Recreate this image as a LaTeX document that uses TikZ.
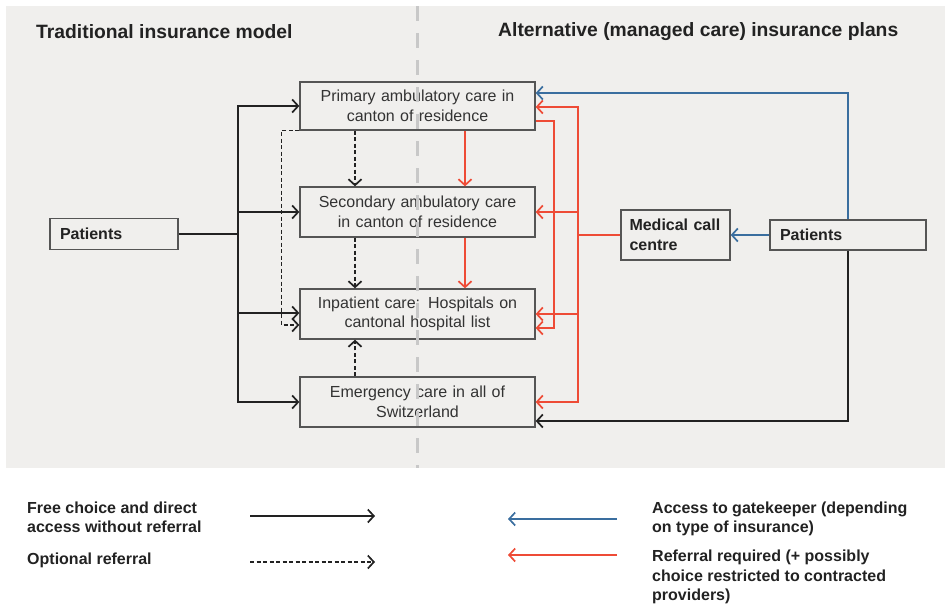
\documentclass[tikz,border=0pt]{standalone}
\usepackage{fontspec}
\setmainfont{Liberation Sans}
\usetikzlibrary{arrows.meta}
\definecolor{bg}{HTML}{F0EFED}
\definecolor{redc}{HTML}{EE4B36}
\definecolor{bluec}{HTML}{3A6E9F}
\definecolor{boxc}{HTML}{555555}
\definecolor{txt}{HTML}{333333}
\definecolor{lbl}{HTML}{222222}
\definecolor{divc}{HTML}{C8C8C8}
\begin{document}
\begin{tikzpicture}[x=1pt,y=-1pt,
  tip/.tip={Straight Barb[length=6pt,width=13pt,line width=1.7pt]},
  box/.style={draw=boxc, line width=1.3pt, minimum width=235pt, text width=225pt, inner xsep=5pt, inner ysep=0pt,
    align=center, text=txt, font=\fontsize{16}{19.5}\selectfont},
  lbox/.style={draw=boxc, line width=1.3pt, inner ysep=0pt, align=left, text=lbl,
    font=\fontsize{16}{19.5}\selectfont\bfseries},
  ln/.style={draw=lbl, line width=1.4pt},
  rl/.style={draw=redc, line width=1.4pt},
  bl/.style={draw=bluec, line width=1.4pt},
  dsh/.style={draw=lbl, line width=1.2pt, dash pattern=on 4pt off 2.5pt},
  hdr/.style={anchor=west, inner sep=0pt, text=lbl, font=\fontsize{19.3}{23}\selectfont\bfseries},
  leg/.style={anchor=west, inner sep=0pt, align=left, text=lbl, font=\fontsize{16}{19.5}\selectfont\bfseries},
  divider/.style={draw=divc, line width=3pt, dash pattern=on 15pt off 12pt}
]
\useasboundingbox (0,0) rectangle (945,605);
\fill[bg] (6,6) rectangle (945,468);

\node[hdr] (h1) at (36,32) {Traditional insurance model};
\node[hdr] (h2) at (498,32) {Alternative (managed care) insurance plans};

\node[box, minimum height=48pt] (prim) at (417.5,106) {Primary ambulatory care in\\canton of residence};
\node[box, minimum height=50pt] (sec) at (417.5,212) {Secondary ambulatory care\\in canton of residence};
\node[box, minimum height=50pt] (inp) at (417.5,314) {Inpatient care: Hospitals on\\cantonal hospital list};
\node[box, minimum height=50pt] (em) at (417.5,402) {Emergency care in all of\\Switzerland};

\node[lbox, minimum height=31pt, text width=108pt, inner xsep=10pt] (patL) at (114,234) {Patients};
\node[lbox, minimum height=50pt, text width=92pt, inner xsep=8.5pt] (mcc) at (675.5,235) {Medical call\\centre};
\node[lbox, minimum height=30pt, text width=136pt, inner xsep=10pt] (patR) at (848,235) {Patients};

% left side: free choice
\coordinate (trunk) at (238,234);
\draw[ln] (patL.east) -- (trunk);
\draw[ln,-tip] (trunk) |- (prim.west);
\draw[ln,-tip] (trunk) |- (sec.west);
\draw[ln,-tip] (trunk) |- ([yshift=1pt]inp.west);
\draw[ln,-tip] (trunk) |- (em.west);

% optional referrals
\draw[dsh,-tip] (prim.south west) -- ++(-18,0) |- ([yshift=-11pt]inp.west);
\draw[dsh,-tip] ([xshift=-62.5pt]prim.south) -- ([xshift=-62.5pt]sec.north);
\draw[dsh,-tip] ([xshift=-62.5pt]sec.south) -- ([xshift=-62.5pt]inp.north);
\draw[dsh,-tip] ([xshift=-62.5pt]em.north) -- ([xshift=-62.5pt]inp.south);

% required referrals
\draw[rl,-tip] ([xshift=47.5pt]prim.south) -- ([xshift=47.5pt]sec.north);
\draw[rl,-tip] ([xshift=47.5pt]sec.south) -- ([xshift=47.5pt]inp.north);

\coordinate (rt) at (578,235);
\draw[rl] (mcc.west) -- (rt);
\draw[rl,-tip] (rt) |- ([yshift=-1pt]prim.east);
\draw[rl,-tip] (rt) |- (sec.east);
\draw[rl,-tip] (rt) |- (inp.east);
\draw[rl,-tip] (rt) |- (em.east);
\draw[rl,-tip] ([yshift=-15pt]prim.east) -- ++(18.5,0) |- ([yshift=-14pt]inp.east);

% gatekeeper access
\draw[bl,-tip] (patR.north) |- ([yshift=13pt]prim.east);
\draw[bl,-tip] (patR.west) -- (mcc.east);
\draw[ln,-tip] (patR.south) |- ([yshift=-19pt]em.east);

\draw[divider] (417,6) -- (417,468);

% legend
\node[leg] (t1) at (27,517.5) {Free choice and direct\\access without referral};
\node[leg] (t2) at (27,560) {Optional referral};
\node[leg] (t3) at (652,519) {Access to gatekeeper (depending\\on type of insurance)};
\node[leg] (t4) at (652,577) {Referral required (+ possibly\\choice restricted to contracted\\providers)};

\coordinate (a1) at (250,516); \coordinate (b1) at (375,516);
\coordinate (a2) at (250,562); \coordinate (b2) at (375,562);
\coordinate (a3) at (617,519); \coordinate (b3) at (508,519);
\coordinate (a4) at (617,555); \coordinate (b4) at (508,555);
\draw[ln,-tip] (a1) -- (b1);
\draw[dsh,-tip] (a2) -- (b2);
\draw[bl,-tip] (a3) -- (b3);
\draw[rl,-tip] (a4) -- (b4);
\end{tikzpicture}
\end{document}
